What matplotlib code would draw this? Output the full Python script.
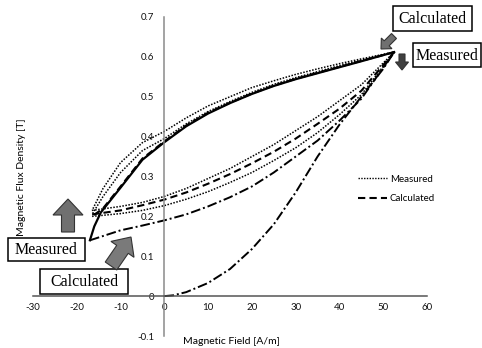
import matplotlib
matplotlib.use("Agg")
import matplotlib.pyplot as plt
from matplotlib.patches import FancyArrow, Rectangle
from matplotlib.lines import Line2D

# ---- data: H [A/m], B [T] ----
# initial magnetisation curve (dash-dot)
h_init = [0, 2, 5, 10, 15, 20, 25, 30, 35, 40, 45, 50, 52.5]
b_init = [0, 0.002, 0.01, 0.033, 0.068, 0.118, 0.18, 0.26, 0.35, 0.43, 0.50, 0.57, 0.612]

# descending branches (peak -> negative tip)
h_up = [52.5, 45, 40, 35, 30, 25, 20, 15, 10, 5, 0, -5, -10, -14, -16.5]
b_meas_up1 = [0.612, 0.595, 0.583, 0.57, 0.556, 0.54, 0.523, 0.50, 0.477, 0.447, 0.413, 0.385, 0.335, 0.27, 0.215]
b_meas_up2 = [0.612, 0.592, 0.578, 0.563, 0.548, 0.531, 0.511, 0.488, 0.463, 0.432, 0.395, 0.365, 0.31, 0.25, 0.205]
b_calc_up = [0.612, 0.59, 0.575, 0.56, 0.545, 0.528, 0.508, 0.485, 0.46, 0.428, 0.388, 0.345, 0.275, 0.22, 0.2]

# solid + dash-dot first descending branch, ends at the lower tip
h_first_up = [52.5, 45, 40, 35, 30, 25, 20, 15, 10, 5, 0, -5, -10, -14.5, -16, -17]
b_first_up = [0.612, 0.589, 0.574, 0.559, 0.544, 0.527, 0.507, 0.484, 0.458, 0.426, 0.386, 0.342, 0.272, 0.21, 0.175, 0.14]

# ascending branches (negative tip -> peak)
h_lo = [-16.5, -10, -5, 0, 5, 10, 15, 20, 25, 30, 35, 40, 45, 52.5]
b_meas_lo1 = [0.215, 0.225, 0.235, 0.25, 0.27, 0.295, 0.32, 0.35, 0.38, 0.415, 0.45, 0.49, 0.53, 0.612]
b_meas_lo2 = [0.2, 0.207, 0.215, 0.227, 0.243, 0.262, 0.285, 0.31, 0.34, 0.372, 0.41, 0.455, 0.505, 0.612]
b_calc_lo1 = [0.205, 0.215, 0.228, 0.242, 0.26, 0.282, 0.306, 0.333, 0.362, 0.395, 0.432, 0.47, 0.515, 0.612]

h_first_lo = [-17, -10, -5, 0, 5, 10, 15, 20, 25, 30, 35, 40, 45, 52.5]
b_first_lo = [0.14, 0.165, 0.177, 0.19, 0.205, 0.225, 0.248, 0.275, 0.31, 0.35, 0.39, 0.44, 0.495, 0.612]

x_ticks = [-30, -20, -10, 0, 10, 20, 30, 40, 50, 60]
y_ticks = [-0.1, 0, 0.1, 0.2, 0.3, 0.4, 0.5, 0.6, 0.7]

dotted = (0, (1, 1))
dashed = (0, (3.5, 2))
dashdot = (0, (5, 1.5, 1, 1.5))

plt.rcParams['font.family'] = ['Lato', 'DejaVu Sans']

fig = plt.figure(figsize=(4.82, 3.48), dpi=100)
ax = fig.add_axes([33 / 482, 1 - 336 / 348, 394 / 482, 319 / 348])

ax.plot(h_init, b_init, color='black', ls=dashdot, lw=1.4)
ax.plot(h_first_up, b_first_up, color='black', ls='-', lw=1.6)
ax.plot(h_first_lo, b_first_lo, color='black', ls=dashdot, lw=1.4)
ax.plot(h_up, b_meas_up1, color='black', ls=dotted, lw=1.1)
ax.plot(h_up, b_meas_up2, color='black', ls=dotted, lw=1.1)
ax.plot(h_lo, b_meas_lo1, color='black', ls=dotted, lw=1.1)
ax.plot(h_lo, b_meas_lo2, color='black', ls=dotted, lw=1.1)
ax.plot(h_up, b_calc_up, color='black', ls=dashed, lw=1.5)
ax.plot(h_lo, b_calc_lo1, color='black', ls=dashed, lw=1.5)

ax.set_xlim(-30, 60)
ax.set_ylim(-0.1, 0.7)
ax.set_xticks(x_ticks)
ax.set_yticks(y_ticks)
ax.set_xticklabels([str(t) for t in x_ticks])
ax.set_yticklabels(['-0.1', '0', '0.1', '0.2', '0.3', '0.4', '0.5', '0.6', '0.7'])
ax.spines['left'].set_position(('data', 0))
ax.spines['bottom'].set_position(('data', 0))
ax.spines['top'].set_visible(False)
ax.spines['right'].set_visible(False)
ax.spines['left'].set_color('#8a8a8a')
ax.spines['bottom'].set_color('#555555')
ax.spines['left'].set_linewidth(1.1)
ax.spines['bottom'].set_linewidth(1.1)
ax.tick_params(axis='x', length=0, pad=5, labelsize=7, colors='#111111')
ax.tick_params(axis='y', length=0, pad=7, labelsize=7, colors='#111111')
ax.patch.set_alpha(0)

handles = [Line2D([], [], color='black', ls=dotted, lw=1.0),
           Line2D([], [], color='black', ls=dashed, lw=1.5)]
fig.legend(handles, ['Measured', 'Calculated'], loc='upper left',
           bbox_to_anchor=(349 / 482, 1 - 166 / 348), frameon=False,
           fontsize=7, handlelength=3.0, labelspacing=1.05, handletextpad=0.3)

fig.text(231 / 482, 1 - 341 / 348, 'Magnetic Field [A/m]', ha='center', va='center', fontsize=7.5)
fig.text(22 / 482, 1 - 177 / 348, 'Magnetic Flux Density [T]', ha='center', va='center',
         rotation=90, fontsize=7.5)

# annotation layer in pixel coordinates
ov = fig.add_axes([0, 0, 1, 1])
ov.set_xlim(0, 482)
ov.set_ylim(348, 0)
ov.axis('off')

boxes = [(393, 6, 79, 25, 'Calculated'),
         (413, 43, 68, 24, 'Measured'),
         (8, 238, 77, 23, 'Measured'),
         (40, 269, 88, 25, 'Calculated')]
for x, y, w, h, label in boxes:
    ov.add_patch(Rectangle((x, y), w, h, facecolor='white', edgecolor='black', lw=1.1))
    ov.text(x + w / 2, y + h / 2 + 0.5, label, ha='center', va='center',
            fontsize=11.5, family='Liberation Serif')

arrows = [(68, 232, 0, -33, 13, 30, 16, '#707070'),
          (111, 266, 20, -29, 14, 28, 15, '#7a7a7a'),
          (394, 36, -13, 13, 7, 15, 8, '#707070'),
          (402, 54, 0, 16, 6, 13, 8, '#404040')]
for x, y, dx, dy, w, hw, hl, c in arrows:
    ov.add_patch(FancyArrow(x, y, dx, dy, width=w, head_width=hw, head_length=hl,
                            length_includes_head=True, facecolor=c, edgecolor='#333333', lw=0.8))

fig.savefig('out.png', dpi=100)
